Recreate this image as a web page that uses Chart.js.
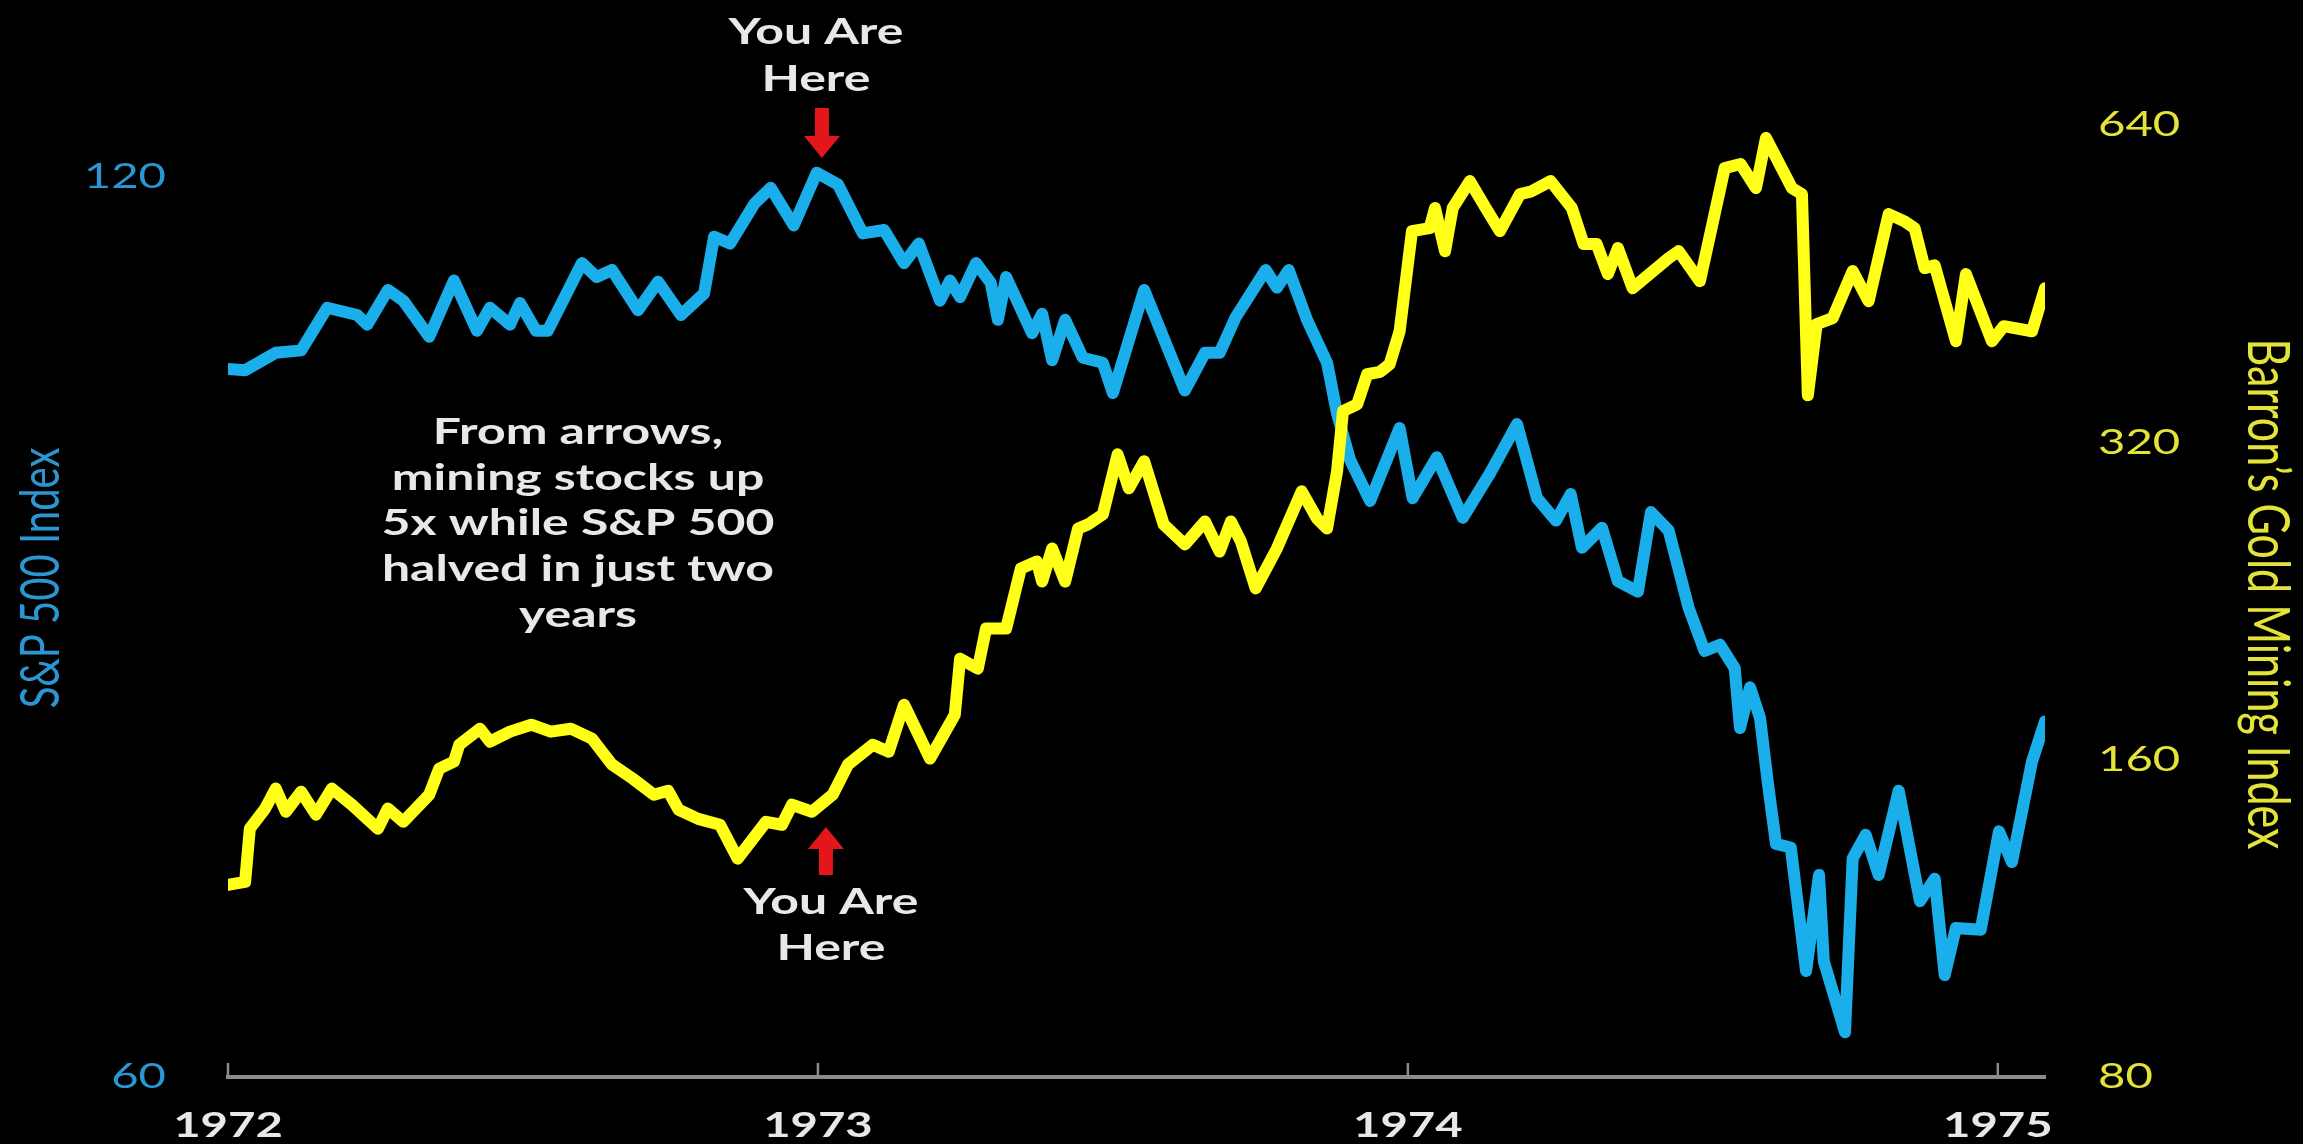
<!DOCTYPE html>
<html>
<head>
<meta charset="utf-8">
<script src="https://cdn.jsdelivr.net/npm/chart.js@4.4.1/dist/chart.umd.min.js"></script>
<style>
    html, body { margin: 0; padding: 0; background: #000; overflow: hidden; }
    canvas { display: block; }
</style>
</head>
<body>
<canvas id="chart" width="2303" height="1144"></canvas>
<script>
/* DATA */
const yearTicks = [1972, 1973, 1974, 1975];
const spxTicks = [60, 120];
const goldTicks = [80, 160, 320, 640];

const spxDates = [1972.000, 1972.029, 1972.081, 1972.124, 1972.168, 1972.219, 1972.236, 1972.271, 1972.297, 1972.341,
    1972.383, 1972.422, 1972.444, 1972.478, 1972.495, 1972.522, 1972.542, 1972.600, 1972.625, 1972.651,
    1972.695, 1972.729, 1972.768, 1972.807, 1972.824, 1972.851, 1972.893, 1972.920, 1972.959, 1972.998,
    1973.034, 1973.076, 1973.112, 1973.146, 1973.171, 1973.207, 1973.224, 1973.241, 1973.268, 1973.293,
    1973.305, 1973.319, 1973.363, 1973.380, 1973.397, 1973.419, 1973.449, 1973.483, 1973.500, 1973.553,
    1973.622, 1973.656, 1973.681, 1973.708, 1973.759, 1973.778, 1973.798, 1973.829, 1973.863, 1973.880,
    1973.902, 1973.936, 1973.986, 1974.008, 1974.049, 1974.093, 1974.139, 1974.185, 1974.219, 1974.251,
    1974.276, 1974.295, 1974.329, 1974.356, 1974.390, 1974.412, 1974.442, 1974.476, 1974.503, 1974.529,
    1974.554, 1974.563, 1974.580, 1974.597, 1974.610, 1974.624, 1974.649, 1974.675, 1974.697, 1974.705,
    1974.741, 1974.754, 1974.776, 1974.798, 1974.832, 1974.868, 1974.893, 1974.910, 1974.929, 1974.971,
    1975.002, 1975.024, 1975.058, 1975.080];
const spxValues = [103.5, 103.4, 104.8, 105.0, 108.5, 107.9, 107.1, 110.0, 109.1, 106.1,
    110.8, 106.6, 108.5, 107.1, 108.9, 106.6, 106.6, 112.3, 111.1, 111.7,
    108.3, 110.7, 107.9, 109.7, 114.6, 114.0, 117.6, 119.0, 115.6, 120.4,
    119.3, 114.9, 115.2, 112.3, 114.0, 109.1, 110.8, 109.4, 112.3, 110.6,
    107.5, 111.1, 106.4, 108.0, 104.2, 107.5, 104.4, 104.0, 101.6, 110.0,
    101.8, 104.8, 104.8, 107.7, 111.7, 110.2, 111.7, 107.5, 104.0, 100.0,
    96.5, 93.5, 98.9, 93.7, 96.7, 92.3, 95.5, 99.2, 93.7, 92.1,
    94.0, 90.2, 91.6, 87.9, 87.2, 92.7, 91.4, 86.1, 83.3, 83.7,
    82.2, 78.5, 81.0, 79.1, 75.3, 71.8, 71.6, 65.1, 70.1, 65.6,
    62.1, 71.0, 72.3, 70.1, 74.8, 68.7, 69.9, 64.9, 67.3, 67.2,
    72.5, 70.8, 76.5, 78.9];

const goldDates = [1972.000, 1972.029, 1972.037, 1972.063, 1972.081, 1972.098, 1972.124, 1972.149, 1972.176, 1972.210,
    1972.254, 1972.271, 1972.297, 1972.341, 1972.358, 1972.383, 1972.392, 1972.427, 1972.444, 1972.478,
    1972.514, 1972.547, 1972.581, 1972.617, 1972.651, 1972.686, 1972.722, 1972.746, 1972.764, 1972.797,
    1972.834, 1972.864, 1972.912, 1972.939, 1972.956, 1972.990, 1973.025, 1973.051, 1973.093, 1973.120,
    1973.146, 1973.190, 1973.232, 1973.241, 1973.271, 1973.285, 1973.319, 1973.344, 1973.371, 1973.380,
    1973.397, 1973.419, 1973.441, 1973.458, 1973.483, 1973.508, 1973.527, 1973.553, 1973.586, 1973.622,
    1973.656, 1973.681, 1973.700, 1973.717, 1973.742, 1973.778, 1973.820, 1973.846, 1973.863, 1973.880,
    1973.890, 1973.914, 1973.931, 1973.953, 1973.969, 1973.986, 1974.007, 1974.037, 1974.046, 1974.063,
    1974.076, 1974.105, 1974.132, 1974.156, 1974.190, 1974.208, 1974.242, 1974.278, 1974.298, 1974.320,
    1974.339, 1974.356, 1974.381, 1974.442, 1974.459, 1974.495, 1974.537, 1974.564, 1974.590, 1974.607,
    1974.651, 1974.668, 1974.678, 1974.693, 1974.720, 1974.754, 1974.781, 1974.815, 1974.841, 1974.859,
    1974.876, 1974.893, 1974.929, 1974.946, 1974.990, 1975.010, 1975.058, 1975.080];
const goldValues = [121.7, 122.5, 137.6, 143.8, 150.2, 142.8, 149.2, 141.9, 150.2, 145.0,
    137.6, 143.8, 139.7, 148.2, 156.9, 159.3, 165.3, 171.2, 166.4, 170.1,
    172.7, 170.1, 171.2, 167.5, 158.3, 153.5, 148.2, 149.5, 143.4, 140.6,
    138.8, 128.9, 139.7, 138.8, 145.0, 142.8, 148.2, 158.3, 165.3, 162.8,
    180.4, 160.4, 176.5, 199.5, 195.2, 213.1, 213.1, 242.9, 246.7, 236.1,
    253.8, 236.1, 265.1, 267.5, 273.4, 311.7, 289.4, 307.0, 267.5, 256.0,
    269.2, 252.1, 269.2, 257.7, 232.6, 253.8, 287.5, 271.0, 265.1, 300.4,
    342.5, 347.7, 371.3, 373.3, 379.5, 407.9, 507.6, 510.9, 533.8, 485.9,
    533.8, 566.2, 533.8, 507.6, 550.4, 553.2, 566.2, 533.8, 493.4, 493.4,
    462.1, 489.1, 448.1, 478.5, 485.9, 455.0, 582.5, 587.7, 557.6, 622.1,
    557.6, 550.4, 354.6, 414.2, 419.7, 465.1, 435.6, 526.8, 518.8, 510.9,
    468.2, 471.0, 399.1, 462.1, 399.1, 412.4, 407.9, 448.1];

const noteLines = ["From arrows,", "mining stocks up", "5x while S&P 500", "halved in just two", "years"];
const markerLines = ["You Are", "Here"];

const BLUE = "#1aaeea";
const YELLOW = "#ffff17";
const BLUE_TXT = "#2a97d2";
const YELLOW_TXT = "#e3e33a";
const WHITE_TXT = "#e8e8e8";
const RED = "#e3161b";
const SX = 1.35;   // the picture is stretched sideways, text too
const FONT = "Lato, 'Open Sans', sans-serif";

function wideText(ctx, text, x, y, align, font, color, rot) {
    ctx.save();
    ctx.translate(x, y);
    ctx.scale(SX, 1);
    if (rot) ctx.rotate(rot);
    ctx.font = font;
    ctx.fillStyle = color;
    ctx.textAlign = align;
    ctx.textBaseline = "middle";
    ctx.fillText(text, 0, 0);
    ctx.restore();
}

function arrow(ctx, cx, tipY, baseY, dir) {
    // dir 1 = pointing down, -1 = pointing up
    const headLen = 22, headHalf = 18, shaftHalf = 7;
    const neck = tipY - dir * headLen;
    ctx.save();
    ctx.fillStyle = RED;
    ctx.beginPath();
    ctx.moveTo(cx, tipY);
    ctx.lineTo(cx - headHalf, neck);
    ctx.lineTo(cx - shaftHalf, neck);
    ctx.lineTo(cx - shaftHalf, baseY);
    ctx.lineTo(cx + shaftHalf, baseY);
    ctx.lineTo(cx + shaftHalf, neck);
    ctx.lineTo(cx + headHalf, neck);
    ctx.closePath();
    ctx.fill();
    ctx.restore();
}

const overlay = {
    id: "overlay",
    afterDraw(chart) {
        const ctx = chart.ctx;
        const area = chart.chartArea;
        const x = chart.scales.x, yl = chart.scales.ySpx, yr = chart.scales.yGold;

        /* year ticks + labels */
        yearTicks.forEach(v => {
            const px = x.getPixelForValue(v);
            ctx.save();
            ctx.strokeStyle = "#8c8c8c";
            ctx.lineWidth = 2.5;
            ctx.beginPath();
            ctx.moveTo(px, area.bottom);
            ctx.lineTo(px, area.bottom - 14);
            ctx.stroke();
            ctx.restore();
            wideText(ctx, String(v), px, area.bottom + 49, "center", "bold 35px " + FONT, WHITE_TXT);
        });

        /* axis values */
        spxTicks.forEach(v => wideText(ctx, String(v), area.left - 62, yl.getPixelForValue(v), "right", "35px " + FONT, BLUE_TXT));
        goldTicks.forEach(v => wideText(ctx, String(v), area.right + 53, yr.getPixelForValue(v), "left", "35px " + FONT, YELLOW_TXT));

        /* axis titles */
        wideText(ctx, "S&P 500 Index", 42, 578, "center", "40px " + FONT, BLUE_TXT, -Math.PI / 2);
        wideText(ctx, "Barron\u2019s Gold Mining Index", 2267, 594, "center", "43px " + FONT, YELLOW_TXT, Math.PI / 2);

        /* note */
        noteLines.forEach((t, i) => wideText(ctx, t, 578, 432 + i * 45.7, "center", "bold 37px " + FONT, WHITE_TXT));

        /* markers */
        const mx = x.getPixelForValue(1973);
        markerLines.forEach((t, i) => wideText(ctx, t, mx - 2, 32 + i * 47, "center", "bold 37px " + FONT, WHITE_TXT));
        arrow(ctx, mx + 4, 158, 108, 1);
        arrow(ctx, mx + 8, 827, 875, -1);
        markerLines.forEach((t, i) => wideText(ctx, t, mx + 13, 902 + i * 46, "center", "bold 37px " + FONT, WHITE_TXT));
    }
};

new Chart(document.getElementById("chart"), {
    type: "line",
    data: {
        datasets: [{
            label: "S&P 500 Index",
            data: spxDates.map((d, i) => ({ x: d, y: spxValues[i] })),
            yAxisID: "ySpx",
            borderColor: BLUE,
            borderWidth: 12,
            order: 2
        }, {
            label: "Barron's Gold Mining Index",
            data: goldDates.map((d, i) => ({ x: d, y: goldValues[i] })),
            yAxisID: "yGold",
            borderColor: YELLOW,
            borderWidth: 12,
            order: 1
        }]
    },
    options: {
        responsive: false,
        animation: false,
        devicePixelRatio: 1,
        layout: { padding: { left: 228, right: 258, top: 125, bottom: 67 } },
        elements: {
            point: { radius: 0 },
            line: { tension: 0, borderJoinStyle: "round", borderCapStyle: "round", fill: false }
        },
        plugins: { legend: { display: false }, tooltip: { enabled: false } },
        scales: {
            x: {
                type: "linear",
                min: 1972,
                max: 1975.08,
                ticks: { display: false },
                grid: { display: false, drawTicks: false },
                border: { display: true, color: "#8c8c8c", width: 4 }
            },
            ySpx: {
                type: "logarithmic",
                position: "left",
                min: 60,
                max: 124.9,
                display: false
            },
            yGold: {
                type: "logarithmic",
                position: "right",
                min: 80,
                max: 640,
                display: false
            }
        }
    },
    plugins: [overlay]
});
</script>
</body>
</html>
